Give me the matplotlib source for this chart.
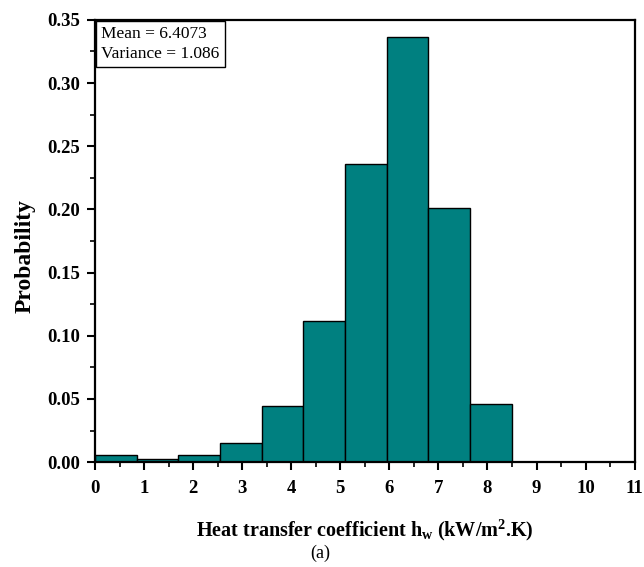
import numpy as np
import matplotlib
matplotlib.use("Agg")
import matplotlib.pyplot as plt
from matplotlib.ticker import MultipleLocator

plt.rcParams['font.family'] = ['Liberation Serif', 'DejaVu Serif']
plt.rcParams['mathtext.fontset'] = 'custom'
plt.rcParams['mathtext.rm'] = 'Liberation Serif:bold'
plt.rcParams['mathtext.bf'] = 'Liberation Serif:bold'
plt.rcParams['mathtext.it'] = 'Liberation Serif:bold'

# histogram data
bin_edges = np.linspace(0, 8.49, 11)
probability = [0.0055, 0.0027, 0.0055, 0.0148, 0.0446, 0.1115, 0.2360, 0.3365, 0.2010, 0.0460]
stats_text = "Mean = 6.4073\nVariance = 1.086"

fig = plt.figure(figsize=(6.44, 5.67), dpi=100)
ax = fig.add_axes([0.1475, 0.185, 0.838, 0.78])

widths = np.diff(bin_edges)
ax.bar(bin_edges[:-1], probability, width=widths, align='edge',
       color='#008080', edgecolor='black', linewidth=1.0)

ax.set_xlim(0, 11)
ax.set_ylim(0, 0.35)
ax.xaxis.set_major_locator(MultipleLocator(1))
ax.xaxis.set_minor_locator(MultipleLocator(0.5))
ax.yaxis.set_major_locator(MultipleLocator(0.05))
ax.yaxis.set_minor_locator(MultipleLocator(0.025))
ax.yaxis.set_major_formatter(plt.FormatStrFormatter('%.2f'))
ax.tick_params(which='major', direction='out', length=6, width=1.5, labelsize=13.5)
ax.tick_params(axis='x', which='major', pad=7)
ax.tick_params(axis='y', which='major', pad=5)
ax.tick_params(which='minor', direction='out', length=3.5, width=1.2)
for lab in ax.get_xticklabels() + ax.get_yticklabels():
    lab.set_fontweight('bold')
for sp in ax.spines.values():
    sp.set_linewidth(1.6)

ax.set_xlabel(r"Heat transfer coefficient h$_\mathbf{w}$ (kW/m$^\mathbf{2}$.K)",
              fontsize=14.5, fontweight='bold')
ax.xaxis.set_label_coords(0.5, -0.125)
ax.set_ylabel("Probability", fontsize=17, fontweight='bold')
ax.yaxis.set_label_coords(-0.11, 0.466)

ax.text(0.012, 0.985, stats_text, transform=ax.transAxes, fontsize=12.5,
        va='top', ha='left', linespacing=1.3,
        bbox=dict(boxstyle='square,pad=0.3', facecolor='white', edgecolor='black', linewidth=1))

fig.text(0.497, 0.024, "(a)", fontsize=13, ha='center', va='center')

fig.savefig("out.png", dpi=100)
